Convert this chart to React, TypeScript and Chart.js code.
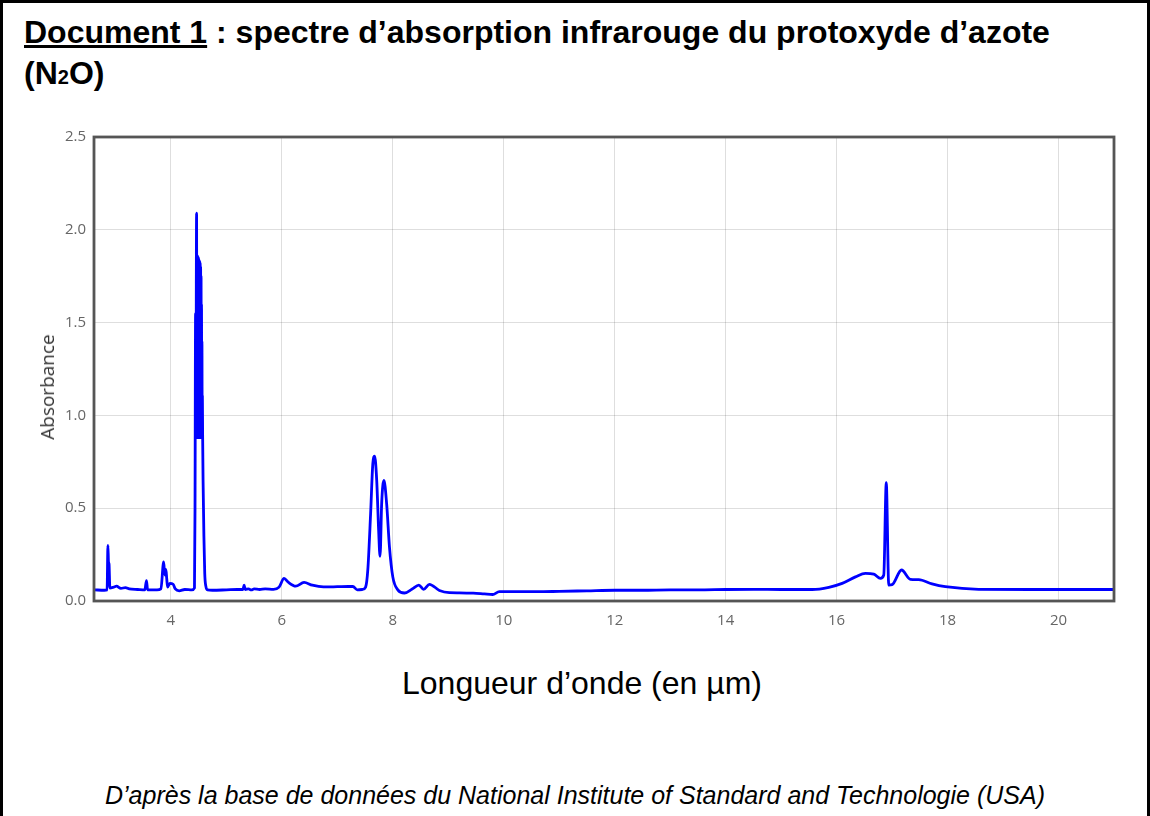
import React, { useEffect, useRef } from "react";
import { Chart, registerables } from "chart.js";

Chart.register(...registerables);

// Wavelength (µm) and absorbance
const WAVELENGTH = [
  2.62, 2.8, 2.85, 2.865, 2.875, 2.885, 2.9, 2.97, 3.02, 3.1, 3.18, 3.25, 3.4, 3.53, 3.56, 3.58,
  3.75, 3.82, 3.87, 3.89, 3.91, 3.925, 3.94, 3.98, 4.04, 4.08, 4.15, 4.25, 4.38, 4.425, 4.435,
  4.445, 4.452, 4.458, 4.463, 4.468, 4.472, 4.476, 4.48, 4.484, 4.488, 4.492, 4.496, 4.5, 4.504,
  4.508, 4.512, 4.516, 4.52, 4.524, 4.528, 4.532, 4.536, 4.54, 4.544, 4.548, 4.552, 4.556, 4.56,
  4.564, 4.568, 4.572, 4.58, 4.595, 4.61, 4.63, 4.66, 4.75, 5.0, 5.2, 5.3,
  5.32, 5.34, 5.4, 5.45, 5.5, 5.6, 5.7, 5.85, 5.95, 6.04, 6.12, 6.25, 6.4, 6.55, 6.75, 7.0, 7.2,
  7.28, 7.36, 7.45, 7.51, 7.55, 7.6, 7.64, 7.672, 7.71, 7.745, 7.77, 7.8, 7.84, 7.89, 7.94, 8.0,
  8.09, 8.21, 8.35, 8.47, 8.555, 8.66, 8.84, 9.02, 9.2, 9.45, 9.65, 9.8, 9.92, 10.2, 10.6, 11.0,
  11.5, 12.0, 12.5, 13.0, 13.5, 14.0, 14.5, 15.0, 15.56, 15.86, 16.1, 16.34, 16.52, 16.67, 16.79,
  16.85, 16.895, 16.94, 17.0, 17.17, 17.33, 17.48, 17.72, 17.96, 18.56, 19.5, 21.0,
];

const ABSORBANCE = [
  0.06, 0.058, 0.06, 0.3, 0.21, 0.2, 0.07, 0.075, 0.08, 0.068, 0.072, 0.065, 0.062, 0.06, 0.11, 0.06,
  0.06, 0.065, 0.21, 0.14, 0.17, 0.12, 0.075, 0.095, 0.09, 0.065, 0.055, 0.062, 0.06, 0.07, 0.5,
  1.55, 0.9, 1.7, 2.09, 0.88, 1.86, 0.88, 1.86, 0.88, 1.85, 0.88, 1.85, 0.88, 1.84,
  0.88, 1.83, 0.88, 1.83, 0.88, 1.82, 0.88, 1.8, 0.88, 1.75, 0.88, 1.6, 0.9, 1.4,
  0.9, 1.1, 0.9, 0.65, 0.35, 0.15, 0.08, 0.06, 0.058, 0.06, 0.062, 0.062,
  0.085, 0.062, 0.065, 0.06, 0.065, 0.062, 0.065, 0.063, 0.075, 0.122, 0.1, 0.08, 0.1, 0.085, 0.076, 0.077, 0.078,
  0.078, 0.06, 0.062, 0.075, 0.17, 0.47, 0.74, 0.78, 0.65, 0.38, 0.24, 0.53, 0.65, 0.52, 0.29, 0.13,
  0.06, 0.043, 0.065, 0.086, 0.063, 0.09, 0.057, 0.045, 0.044, 0.042, 0.038, 0.035, 0.05, 0.05, 0.05, 0.052,
  0.055, 0.058, 0.058, 0.06, 0.06, 0.062, 0.063, 0.062, 0.062, 0.074, 0.095, 0.13, 0.149, 0.145, 0.122,
  0.14, 0.637, 0.086, 0.088, 0.167, 0.117, 0.115, 0.092, 0.077, 0.063, 0.062, 0.062,
];

const X_TICKS = [4, 6, 8, 10, 12, 14, 16, 18, 20];
const Y_TICKS = [0, 0.5, 1.0, 1.5, 2.0, 2.5];
const X_MIN = 2.614;
const X_MAX = 21;
const Y_MIN = 0;
const Y_MAX = 2.5;

const TITLE_LABEL = "Document 1";
const TITLE_REST = " : spectre d’absorption infrarouge du protoxyde d’azote";
const Y_TITLE = "Absorbance";
const X_TITLE = "Longueur d’onde (en µm)";
const SOURCE = "D’après la base de données du National Institute of Standard and Technologie (USA)";

const ARIAL = '"Liberation Sans", Arial, sans-serif';

export default function App() {
  const ref = useRef<HTMLCanvasElement | null>(null);

  useEffect(() => {
    document.body.style.margin = "0";
    const canvas = ref.current;
    if (!canvas) return;

    const framePlugin = {
      id: "plotFrame",
      afterDraw(chart: any) {
        const { ctx, chartArea: a } = chart;
        ctx.save();
        ctx.strokeStyle = "#555555";
        ctx.lineWidth = 2.8;
        ctx.strokeRect(a.left, a.top, a.right - a.left, a.bottom - a.top);
        ctx.restore();
      },
    };

    const points = WAVELENGTH.map((x, i) => ({ x, y: ABSORBANCE[i] }));

    const chart = new Chart(canvas, {
      type: "line",
      data: {
        datasets: [
          {
            data: points,
            borderColor: "#0000ff",
            borderWidth: 2.8,
            pointRadius: 0,
            fill: false,
            cubicInterpolationMode: "monotone",
          },
        ],
      },
      options: {
        responsive: false,
        animation: false,
        devicePixelRatio: 1,
        layout: { padding: { left: 0, right: 36, top: 37, bottom: 0 } },
        plugins: { legend: { display: false }, tooltip: { enabled: false }, title: { display: false } },
        scales: {
          x: {
            type: "linear",
            min: X_MIN,
            max: X_MAX,
            afterFit(scale: any) {
              scale.height = 59;
            },
            afterBuildTicks(scale: any) {
              scale.ticks = X_TICKS.map((v) => ({ value: v }));
            },
            grid: { color: "rgba(0,0,0,0.13)", lineWidth: 1, drawTicks: false },
            border: { display: false },
            ticks: {
              padding: 11,
              color: "#666666",
              font: { family: '"Open Sans", sans-serif', size: 15 },
              callback: (v: any) => String(v),
            },
          },
          y: {
            type: "linear",
            min: Y_MIN,
            max: Y_MAX,
            afterFit(scale: any) {
              scale.width = 94;
            },
            afterBuildTicks(scale: any) {
              scale.ticks = Y_TICKS.map((v) => ({ value: v }));
            },
            grid: { color: "rgba(0,0,0,0.13)", lineWidth: 1, drawTicks: false },
            border: { display: false },
            ticks: {
              padding: 8,
              color: "#666666",
              font: { family: '"Open Sans", sans-serif', size: 15 },
              callback: (v: any) => Number(v).toFixed(1),
            },
          },
        },
      },
      plugins: [framePlugin],
    });

    return () => chart.destroy();
  }, []);

  return (
    <div
      style={{
        position: "relative",
        width: 1150,
        height: 816,
        background: "#fff",
        overflow: "hidden",
        fontFamily: ARIAL,
        color: "#000",
      }}
    >
      <div
        style={{
          position: "absolute",
          left: 0,
          top: 0,
          width: 1144,
          height: 900,
          border: "3px solid #000",
          boxSizing: "content-box",
        }}
      />
      <div
        style={{
          position: "absolute",
          left: 24,
          top: 12,
          fontSize: 32,
          fontWeight: "bold",
          lineHeight: "41px",
          whiteSpace: "nowrap",
        }}
      >
        <span style={{ textDecoration: "underline" }}>{TITLE_LABEL}</span>
        {TITLE_REST}
        <br />
        (N<span style={{ fontSize: 20 }}>2</span>O)
      </div>
      <canvas
        ref={ref}
        width={1150}
        height={560}
        style={{ position: "absolute", left: 0, top: 100, width: 1150, height: 560 }}
      />
      <div
        style={{
          position: "absolute",
          left: 47,
          top: 387,
          transform: "translate(-50%, -50%) rotate(-90deg)",
          fontFamily: '"Open Sans", sans-serif',
          fontSize: 19,
          color: "#333",
          whiteSpace: "nowrap",
        }}
      >
        {Y_TITLE}
      </div>
      <div
        style={{
          position: "absolute",
          left: 0,
          width: 1164,
          top: 665,
          textAlign: "center",
          fontSize: 32,
          whiteSpace: "nowrap",
        }}
      >
        {X_TITLE}
      </div>
      <div
        style={{
          position: "absolute",
          left: 0,
          width: 1150,
          top: 781,
          textAlign: "center",
          fontSize: 25,
          fontStyle: "italic",
          whiteSpace: "nowrap",
        }}
      >
        {SOURCE}
      </div>
    </div>
  );
}
